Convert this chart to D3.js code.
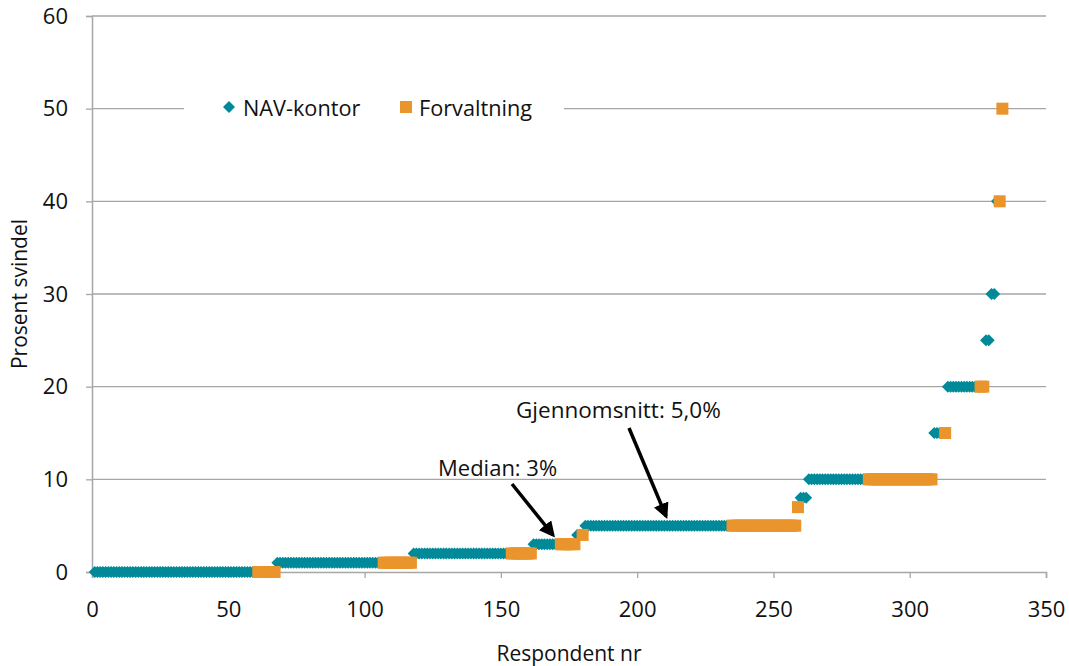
<!DOCTYPE html>
<html>
<head>
<meta charset="utf-8">
<script src="https://cdnjs.cloudflare.com/ajax/libs/d3/7.8.5/d3.min.js"></script>
<style>
  body { margin: 0; background: #fff; }
  svg { font-family: "Open Sans", "Noto Sans", sans-serif; }
</style>
</head>
<body>
<svg id="chart" width="1069" height="666"></svg>
<script>
// values per level (percent), respondent ranges
var levels    = [0, 1, 2, 3, 4, 5, 7, 8, 10, 15, 20, 25, 30, 40, 50];
var navFirst  = [1, 68, 118, 162, 178, 181, null, 260, 263, 309, 314, 328, 330, 332, null];
var navLast   = [60, 106, 153, 171, 179, 234, null, 262, 284, 312, 325, 329, 331, 332, null];
var forvFirst = [61, 107, 154, 172, 180, 235, 259, null, 285, 313, 326, null, null, 333, 334];
var forvLast  = [67, 117, 161, 177, 180, 258, 259, null, 308, 313, 327, null, null, 333, 334];

var xTicks = [0, 50, 100, 150, 200, 250, 300, 350];
var yTicks = [0, 10, 20, 30, 40, 50, 60];
var seriesNames = ["NAV-kontor", "Forvaltning"];

var teal = "#008a99", orange = "#ea942c", grid = "#a6a6a6";

var svg = d3.select("#chart");
var margin = { left: 92, right: 23, top: 16, bottom: 94 };
var width = 1069 - margin.left - margin.right;
var height = 666 - margin.top - margin.bottom;

var x = d3.scaleLinear().domain([0, 350]).range([margin.left, margin.left + width]);
var y = d3.scaleLinear().domain([0, 60]).range([margin.top + height, margin.top]);

// expand ranges into single respondent points
function points(first, last) {
  var out = [];
  levels.forEach(function (v, i) {
    if (first[i] == null) return;
    for (var r = first[i]; r <= last[i]; r++) out.push({ r: r, v: v });
  });
  return out;
}
var navData = points(navFirst, navLast);
var forvData = points(forvFirst, forvLast);

// gridlines
svg.append("g").selectAll("line")
  .data(yTicks.filter(function (d) { return d > 0; }))
  .enter().append("line")
  .attr("x1", x(0)).attr("x2", x(350))
  .attr("y1", function (d) { return y(d); }).attr("y2", function (d) { return y(d); })
  .attr("stroke", grid).attr("stroke-width", 1.3);

// axes
var yAxis = svg.append("g")
  .attr("transform", "translate(" + x(0) + ",0)")
  .call(d3.axisLeft(y).tickValues(yTicks).tickSize(6).tickPadding(18));
var xAxis = svg.append("g")
  .attr("transform", "translate(0," + y(0) + ")")
  .call(d3.axisBottom(x).tickValues(xTicks).tickSize(6).tickPadding(23));

[xAxis, yAxis].forEach(function (a) {
  a.select(".domain").attr("stroke", grid).attr("stroke-width", 1.5);
  a.selectAll(".tick line").attr("stroke", grid).attr("stroke-width", 1.3);
  a.selectAll(".tick text").attr("fill", "#111").style("font-size", "22px")
    .style("font-family", "'Open Sans', sans-serif");
});

// axis titles
svg.append("text")
  .attr("x", x(175)).attr("y", 661)
  .attr("text-anchor", "middle").attr("fill", "#111").style("font-size", "21px")
  .text("Respondent nr");
svg.append("text")
  .attr("transform", "translate(27," + y(30) + ") rotate(-90)")
  .attr("text-anchor", "middle").attr("fill", "#111").style("font-size", "21px")
  .text("Prosent svindel");

// markers
var half = 6;
function diamond(cx, cy) {
  return "M" + (cx - half) + "," + cy + "L" + cx + "," + (cy - half) +
    "L" + (cx + half) + "," + cy + "L" + cx + "," + (cy + half) + "Z";
}
svg.append("g").selectAll("path")
  .data(navData).enter().append("path")
  .attr("d", function (d) { return diamond(x(d.r), y(d.v)); })
  .attr("fill", teal);
svg.append("g").selectAll("rect")
  .data(forvData).enter().append("rect")
  .attr("x", function (d) { return x(d.r) - half; })
  .attr("y", function (d) { return y(d.v) - half; })
  .attr("width", half * 2).attr("height", half * 2)
  .attr("fill", orange);

// legend (white box hides gridline)
var legend = svg.append("g");
legend.append("rect")
  .attr("x", 184).attr("y", 88).attr("width", 380).attr("height", 40)
  .attr("fill", "#fff");
legend.append("path").attr("d", diamond(229, 107)).attr("fill", teal);
legend.append("rect").attr("x", 400).attr("y", 101).attr("width", 12).attr("height", 12).attr("fill", orange);
legend.selectAll("text.leg")
  .data(seriesNames).enter().append("text")
  .attr("class", "leg")
  .attr("x", function (d, i) { return i === 0 ? 243 : 419; })
  .attr("y", 116)
  .attr("fill", "#111").style("font-size", "21.7px")
  .text(function (d) { return d; });

// annotations
var defs = svg.append("defs");
defs.append("marker")
  .attr("id", "arrow").attr("viewBox", "0 0 10 10")
  .attr("refX", 8).attr("refY", 5)
  .attr("markerWidth", 4.5).attr("markerHeight", 4.5)
  .attr("orient", "auto")
  .append("path").attr("d", "M0,0L10,5L0,10Z").attr("fill", "#000");

svg.append("text").attr("x", 516).attr("y", 418)
  .attr("fill", "#111").style("font-size", "22.5px").text("Gjennomsnitt: 5,0%");
svg.append("line").attr("x1", 629).attr("y1", 428).attr("x2", 666).attr("y2", 516)
  .attr("stroke", "#000").attr("stroke-width", 3.5).attr("marker-end", "url(#arrow)");

svg.append("text").attr("x", 438).attr("y", 476)
  .attr("fill", "#111").style("font-size", "22px").text("Median: 3%");
svg.append("line").attr("x1", 512).attr("y1", 484).attr("x2", 553).attr("y2", 535)
  .attr("stroke", "#000").attr("stroke-width", 3.5).attr("marker-end", "url(#arrow)");
</script>
</body>
</html>
